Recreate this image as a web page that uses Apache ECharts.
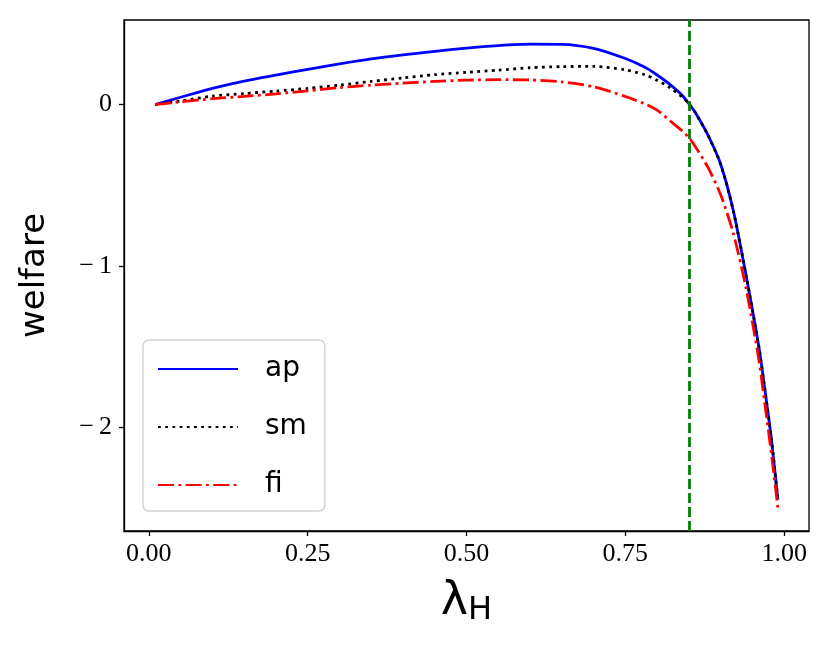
<!DOCTYPE html>
<html>
<head>
<meta charset="utf-8">
<script src="https://cdn.jsdelivr.net/npm/echarts@6/dist/echarts.min.js"></script>
<style>html,body{margin:0;padding:0;background:#fff}#c{width:830px;height:651px}</style>
</head>
<body>
<div id="c"></div>
<script>
// lambda_H grid
var lambdaH = [0.01,0.05,0.10,0.15,0.20,0.25,0.30,0.35,0.40,0.45,0.50,0.55,0.60,0.65,0.70,0.75,0.78,0.80,0.82,0.84,0.85,0.86,0.88,0.90,0.92,0.94,0.96,0.97,0.98,0.99];
var ap = [0,0.045,0.10,0.145,0.182,0.218,0.252,0.283,0.308,0.33,0.35,0.365,0.374,0.373,0.348,0.285,0.232,0.183,0.125,0.055,0.005,-0.05,-0.19,-0.37,-0.66,-1.06,-1.50,-1.78,-2.08,-2.45];
var sm = [0,0.022,0.052,0.068,0.083,0.10,0.12,0.143,0.165,0.185,0.20,0.213,0.228,0.235,0.236,0.215,0.185,0.15,0.105,0.045,0.005,-0.05,-0.19,-0.37,-0.66,-1.06,-1.50,-1.78,-2.08,-2.45];
var fi = [0,0.017,0.036,0.05,0.066,0.085,0.105,0.12,0.133,0.143,0.151,0.154,0.152,0.14,0.11,0.05,0.005,-0.035,-0.10,-0.165,-0.205,-0.26,-0.39,-0.56,-0.80,-1.14,-1.58,-1.87,-2.17,-2.50];
var threshold = 0.85;
var xTicks = [0, 0.25, 0.5, 0.75, 1.0];
var yTicks = [-2, -1, 0];
var seriesNames = ['ap', 'sm', 'fi'];

function pairs(ys){ return lambdaH.map(function(x,i){ return [x, ys[i]]; }); }

var chart = echarts.init(document.getElementById('c'), null, {renderer:'canvas'});
var serif = '"Liberation Serif", "DejaVu Serif", serif';
var sans = '"DejaVu Sans", "Liberation Sans", sans-serif';
chart.setOption({
  animation: false,
  backgroundColor: '#fff',
  grid: {left:124, right:21, top:20, bottom:120, show:true, borderColor:'#000', borderWidth:1.3, outerBoundsMode:'none', containLabel:false},
  legend: {
    orient:'vertical', left:143, top:340,
    data: seriesNames,
    itemWidth:80, itemHeight:4, itemGap:30,
    padding:[15, 18, 12, 14],
    borderColor:'#d0d0d0', borderWidth:1.3, borderRadius:6,
    backgroundColor:'rgba(255,255,255,0.8)',
    itemStyle:{opacity:0},
    textStyle:{fontFamily:sans, fontSize:28, color:'#000', padding:[0,0,0,22]}
  },
  xAxis: {
    type:'value', min:-0.039, max:1.039,
    name:'{l|λ}{s|H}', nameLocation:'middle', nameGap:46,
    nameTextStyle:{rich:{l:{fontFamily:sans, fontSize:46, color:'#000'}, s:{fontFamily:sans, fontSize:32, color:'#000', padding:[18,0,0,0]}}},
    axisLine:{show:true, onZero:false, lineStyle:{color:'#000', width:1.3}},
    axisTick:{show:true, length:5, lineStyle:{color:'#000', width:1.3}, customValues:xTicks},
    axisLabel:{customValues:xTicks, margin:10, fontFamily:serif, fontSize:26, color:'#000', formatter:function(v){return v.toFixed(2);}},
    splitLine:{show:false}
  },
  yAxis: {
    type:'value', min:-2.644, max:0.524,
    name:'welfare', nameLocation:'middle', nameGap:72,
    nameTextStyle:{fontFamily:sans, fontSize:34, color:'#000'},
    axisLine:{show:true, onZero:false, lineStyle:{color:'#000', width:1.3}},
    axisTick:{show:true, length:5, lineStyle:{color:'#000', width:1.3}, customValues:yTicks},
    axisLabel:{customValues:yTicks, margin:12, fontFamily:serif, fontSize:26, color:'#000', formatter:function(v){return v<0?'\u2212\u2009'+Math.abs(v):String(v);}},
    splitLine:{show:false}
  },
  series: [
    {name:'ap', type:'line', data:pairs(ap), showSymbol:false, symbol:'none', smooth:0.25, z:3,
     lineStyle:{color:'#0000ff', width:2.8}, itemStyle:{color:'#0000ff'},
     markLine:{silent:true, symbol:'none', label:{show:false}, lineStyle:{color:'#008000', width:2.8, type:[10,4]}, data:[{xAxis:threshold}]}},
    {name:'sm', type:'line', data:pairs(sm), showSymbol:false, symbol:'none', smooth:0.25, z:4,
     lineStyle:{color:'#000000', width:2.8, type:[2.8,4.4]}, itemStyle:{color:'#000000'}},
    {name:'fi', type:'line', data:pairs(fi), showSymbol:false, symbol:'none', smooth:0.25, z:5,
     lineStyle:{color:'#ff0000', width:2.8, type:[16,4.4,2.8,4.4]}, itemStyle:{color:'#ff0000'}}
  ]
});
</script>
</body>
</html>
